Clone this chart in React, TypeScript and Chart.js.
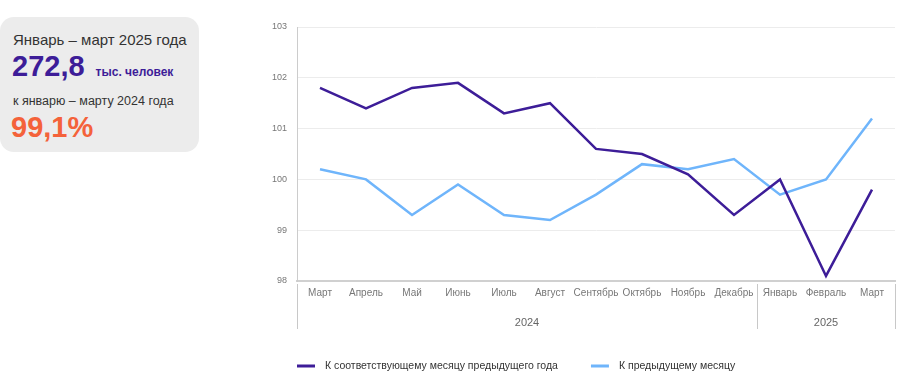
import React, { useEffect, useRef } from "react";
import { Chart, registerables } from "chart.js";

Chart.register(...registerables);

const months = [
  "Март", "Апрель", "Май", "Июнь", "Июль", "Август", "Сентябрь",
  "Октябрь", "Ноябрь", "Декабрь", "Январь", "Февраль", "Март",
];
const yearLabels = ["2024", "2025"];
const yearCounts = [10, 3];
const yoyLabel = "К соответствующему месяцу предыдущего года";
const momLabel = "К предыдущему месяцу";
const yoyValues = [101.8, 101.4, 101.8, 101.9, 101.3, 101.5, 100.6, 100.5, 100.1, 99.3, 100.0, 98.1, 99.8];
const momValues = [100.2, 100.0, 99.3, 99.9, 99.3, 99.2, 99.7, 100.3, 100.2, 100.4, 99.7, 100.0, 101.2];
const yMin = 98;
const yMax = 103;

const FONT = "'Liberation Sans', Arial, Helvetica, sans-serif";
const PURPLE = "#3d1d98";
const BLUE = "#6fb5fb";
const ORANGE = "#f4623a";

const groupPlugin = {
  id: "yearGroups",
  afterDraw(chart: any) {
    const xs = chart.scales.x;
    const ctx = chart.ctx;
    const n = months.length;
    const step = xs.width / n;
    const top = chart.chartArea.bottom + 3;
    const bottom = chart.chartArea.bottom + 48;
    ctx.save();
    ctx.strokeStyle = "#c8c8c8";
    ctx.lineWidth = 1;
    let start = 0;
    const drawLine = (px: number) => {
      const x = Math.round(px) + 0.5;
      ctx.beginPath();
      ctx.moveTo(x, top);
      ctx.lineTo(x, bottom);
      ctx.stroke();
    };
    drawLine(xs.left);
    ctx.fillStyle = "#666";
    ctx.font = `11px ${FONT}`;
    ctx.textAlign = "center";
    ctx.textBaseline = "middle";
    yearLabels.forEach((lbl, i) => {
      const x0 = xs.getPixelForValue(start) - step / 2;
      const x1 = xs.getPixelForValue(start + yearCounts[i] - 1) + step / 2;
      drawLine(x1);
      ctx.fillText(lbl, (x0 + x1) / 2, chart.chartArea.bottom + 42);
      start += yearCounts[i];
    });

    // legend
    const ly = chart.chartArea.bottom + 85;
    let lx = chart.chartArea.left;
    ctx.font = `10.5px ${FONT}`;
    ctx.textAlign = "left";
    ctx.fillStyle = "#333";
    chart.data.datasets.forEach((ds: any) => {
      ctx.strokeStyle = ds.borderColor;
      ctx.lineWidth = 3;
      ctx.beginPath();
      ctx.moveTo(lx, ly);
      ctx.lineTo(lx + 18, ly);
      ctx.stroke();
      lx += 28;
      ctx.fillText(ds.label, lx, ly);
      lx += ctx.measureText(ds.label).width + 33;
    });
    ctx.restore();
  },
};

export default function App() {
  const ref = useRef<HTMLCanvasElement>(null);
  useEffect(() => {
    if (!ref.current) return;
    const chart = new Chart(ref.current, {
      type: "line",
      data: {
        labels: months,
        datasets: [
          {
            label: yoyLabel,
            data: yoyValues,
            borderColor: PURPLE,
            backgroundColor: PURPLE,
            borderWidth: 2.5,
            pointRadius: 0,
            tension: 0,
          },
          {
            label: momLabel,
            data: momValues,
            borderColor: BLUE,
            backgroundColor: BLUE,
            borderWidth: 2.5,
            pointRadius: 0,
            tension: 0,
          },
        ],
      },
      options: {
        animation: false,
        responsive: false,
        maintainAspectRatio: false,
        layout: { padding: { left: 0, right: 6, top: 27, bottom: 50 } },
        plugins: {
          tooltip: { enabled: false },
          legend: { display: false },
        },
        scales: {
          x: {
            offset: true,
            grid: { display: false, drawTicks: false },
            border: { display: true, color: "#d0d0d0", width: 2 },
            ticks: {
              color: "#777",
              padding: 6,
              maxRotation: 0,
              autoSkip: false,
              font: { size: 10, family: FONT },
            },
            afterFit: (s: any) => {
              s.height = 47;
            },
          },
          y: {
            min: yMin,
            max: yMax,
            grid: { color: "#ececec", drawTicks: false },
            border: { display: true, color: "#cccccc", width: 1 },
            ticks: {
              stepSize: 1,
              color: "#777",
              padding: 10,
              font: { size: 9, family: FONT },
            },
            afterFit: (s: any) => {
              s.width = 158;
            },
          },
        },
      },
      plugins: [groupPlugin],
    });
    return () => chart.destroy();
  }, []);

  return (
    <div style={{ position: "fixed", left: 0, top: 0, width: 901, height: 378, background: "#fff", fontFamily: FONT }}>
      <div
        style={{
          position: "absolute",
          left: 0,
          top: 17,
          width: 199,
          height: 135,
          background: "#ececec",
          borderRadius: 14,
        }}
      >
        <div style={{ position: "absolute", left: 13, top: 15, lineHeight: 1, fontSize: 15, color: "#333", whiteSpace: "nowrap" }}>
          Январь – март 2025 года
        </div>
        <div style={{ position: "absolute", left: 12, top: 34.5, lineHeight: 1, whiteSpace: "nowrap" }}>
          <span style={{ fontSize: 29, fontWeight: "bold", color: PURPLE }}>272,8</span>
          <span style={{ fontSize: 12, fontWeight: "bold", color: PURPLE, marginLeft: 11 }}>тыс. человек</span>
        </div>
        <div style={{ position: "absolute", left: 13, top: 77.5, lineHeight: 1, fontSize: 12.5, color: "#333", whiteSpace: "nowrap" }}>
          к январю – марту 2024 года
        </div>
        <div style={{ position: "absolute", left: 11, top: 95.5, lineHeight: 1, fontSize: 29, fontWeight: "bold", color: ORANGE, whiteSpace: "nowrap" }}>
          99,1%
        </div>
      </div>
      <canvas
        ref={ref}
        width={762}
        height={378}
        style={{ position: "absolute", left: 139, top: 0, width: 762, height: 378 }}
      />
    </div>
  );
}
